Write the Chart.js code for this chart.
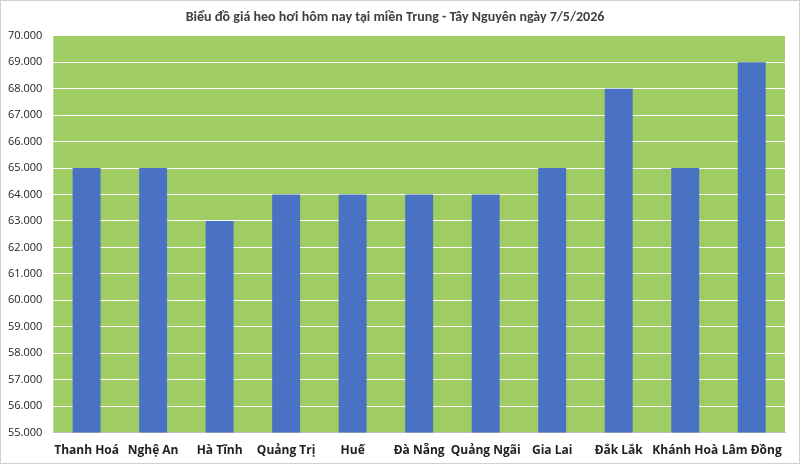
<!DOCTYPE html>
<html><head><meta charset="utf-8">
<script src="https://cdn.jsdelivr.net/npm/chart.js@4"></script>
<style>body{margin:0;background:#fff}#w{width:798px;height:462px;border:1px solid #d0d0d0}</style>
</head><body><div id="w"><canvas id="c"></canvas></div>
<script>
const categories=["Thanh Hoá","Nghệ An","Hà Tĩnh","Quảng Trị","Huế","Đà Nẵng","Quảng Ngãi","Gia Lai","Đắk Lắk","Khánh Hoà","Lâm Đồng"];
const prices=[65000,65000,63000,64000,64000,64000,64000,65000,68000,65000,69000];
const title="Biểu đồ giá heo hơi hôm nay tại miền Trung - Tây Nguyên ngày 7/5/2026";
const bgPlugin={id:'bg',beforeDraw(ch){const a=ch.chartArea,x=ch.ctx;x.save();x.fillStyle='#9fcd63';x.fillRect(a.left,a.top,a.width,a.height);x.restore();}};
new Chart(document.getElementById('c'),{type:'bar',
data:{labels:categories,datasets:[{data:prices,backgroundColor:'#4a72c4',categoryPercentage:1,barPercentage:0.42}]},
options:{responsive:true,maintainAspectRatio:false,animation:false,
layout:{padding:{left:4,right:14,top:2,bottom:2}},
plugins:{legend:{display:false},tooltip:{enabled:false},
title:{display:true,text:title,color:'#404040',font:{family:'Calibri, Carlito, "Open Sans", sans-serif',size:14,weight:'bold'},padding:{top:6,bottom:10}}},
scales:{x:{grid:{display:false},border:{color:'#bfbfbf'},ticks:{color:'#222',font:{family:'"Open Sans", sans-serif',size:12,weight:'bold'},maxRotation:0,autoSkip:false}},
y:{min:55000,max:70000,grid:{color:'#ffffff',lineWidth:1},border:{display:false},
ticks:{stepSize:1000,color:'#222',font:{family:'"Open Sans", sans-serif',size:11},callback:v=>(v/1000).toFixed(3)}}}},
plugins:[bgPlugin]});
</script></body></html>
